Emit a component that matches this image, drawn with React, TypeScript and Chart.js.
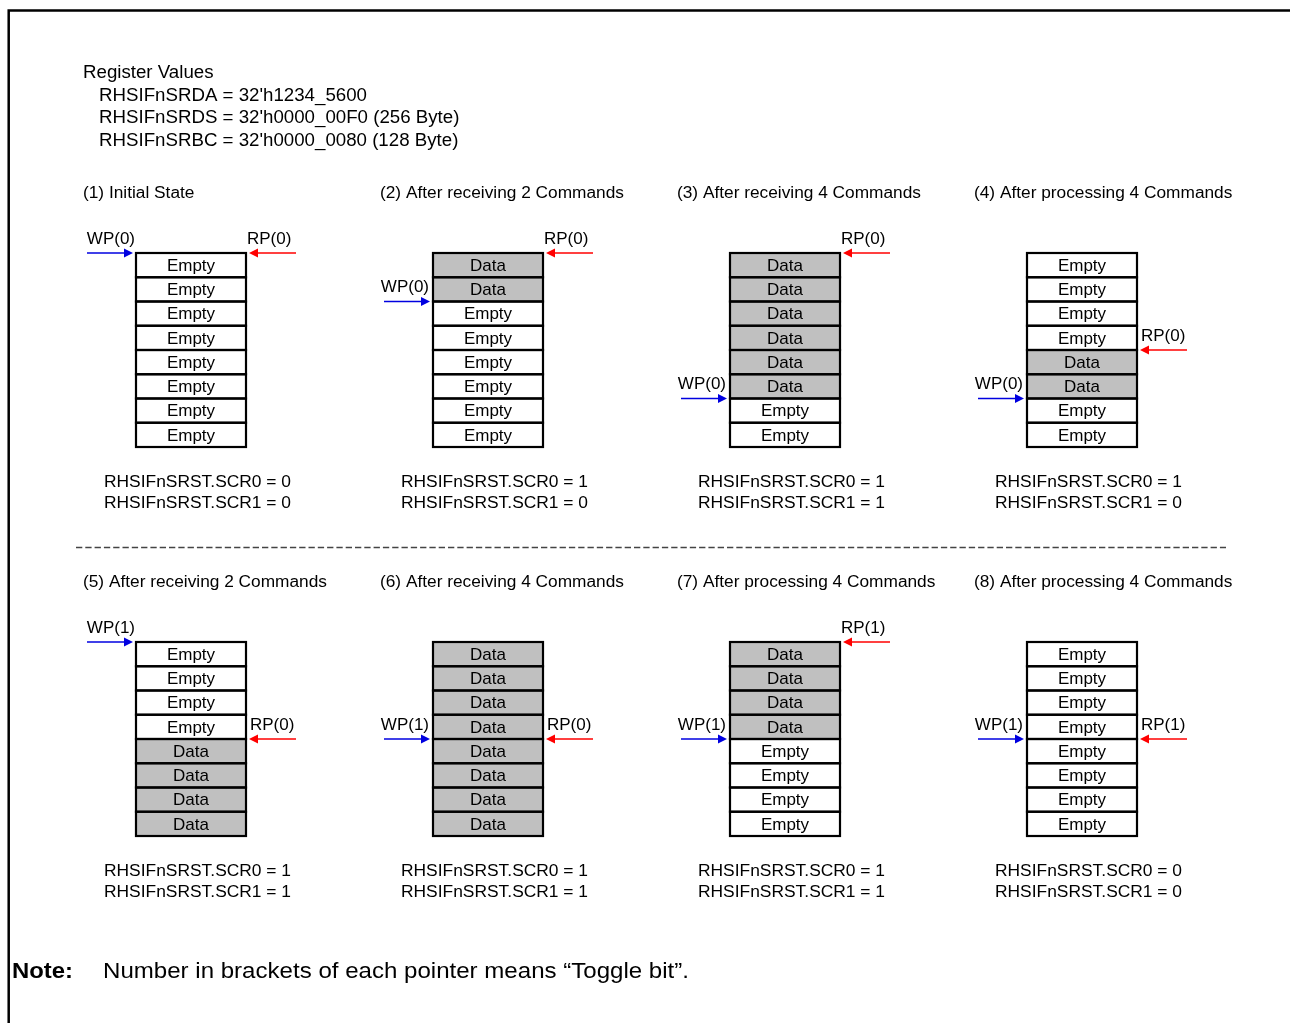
import React, { useEffect, useRef } from 'react';
import { Chart, registerables } from 'chart.js';

Chart.register(...registerables);

// ---------- data ----------
const registerTitle = 'Register Values';
const registerLines = [
  "RHSIFnSRDA = 32'h1234_5600",
  "RHSIFnSRDS = 32'h0000_00F0 (256 Byte)",
  "RHSIFnSRBC = 32'h0000_0080 (128 Byte)",
];

const panelTitles = [
  '(1) Initial State',
  '(2) After receiving 2 Commands',
  '(3) After receiving 4 Commands',
  '(4) After processing 4 Commands',
  '(5) After receiving 2 Commands',
  '(6) After receiving 4 Commands',
  '(7) After processing 4 Commands',
  '(8) After processing 4 Commands',
];

const D = 'Data';
const E = 'Empty';
const panelCells: string[][] = [
  [E, E, E, E, E, E, E, E],
  [D, D, E, E, E, E, E, E],
  [D, D, D, D, D, D, E, E],
  [E, E, E, E, D, D, E, E],
  [E, E, E, E, D, D, D, D],
  [D, D, D, D, D, D, D, D],
  [D, D, D, D, E, E, E, E],
  [E, E, E, E, E, E, E, E],
];

const wpSlot = [0, 2, 6, 6, 0, 4, 4, 4];
const wpToggle = [0, 0, 0, 0, 1, 1, 1, 1];
const rpSlot = [0, 0, 0, 4, 4, 4, 0, 4];
const rpToggle = [0, 0, 0, 0, 0, 0, 1, 1];
const scr0 = [0, 1, 1, 1, 1, 1, 1, 0];
const scr1 = [0, 0, 1, 0, 1, 1, 1, 0];

const noteLabel = 'Note:';
const noteText = 'Number in brackets of each pointer means \u201CToggle bit\u201D.';

// ---------- layout (diagram units) ----------
const W = 1290;
const H = 1023;
const FONT = '"Liberation Sans", Arial, Helvetica, sans-serif';
const boxLeft0 = 136;
const colStep = 297;
const boxW = 110;
const rowTops = [253, 642];
const rowH = 24.25;
const titleY = [193, 582];
const scrY = [482, 871];

const diagramPlugin = {
  id: 'fifoDiagram',
  beforeDraw(chart: any) {
    const ctx = chart.ctx;
    ctx.save();
    ctx.fillStyle = '#ffffff';
    ctx.fillRect(0, 0, chart.width, chart.height);
    ctx.restore();
  },
  afterDraw(chart: any) {
    const ctx: CanvasRenderingContext2D = chart.ctx;
    const xs = chart.scales.x;
    const ys = chart.scales.y;
    const X = (v: number) => xs.getPixelForValue(v);
    const Y = (v: number) => ys.getPixelForValue(v);

    ctx.save();
    // frame
    ctx.strokeStyle = '#000';
    ctx.lineWidth = 2.5;
    ctx.beginPath();
    ctx.moveTo(X(8.7), Y(H + 5));
    ctx.lineTo(X(8.7), Y(10.5));
    ctx.lineTo(X(W + 5), Y(10.5));
    ctx.stroke();

    // register text
    ctx.fillStyle = '#000';
    ctx.textBaseline = 'middle';
    ctx.textAlign = 'left';
    ctx.font = `18.7px ${FONT}`;
    ctx.fillText(registerTitle, X(83), Y(73));
    registerLines.forEach((t, i) => ctx.fillText(t, X(99), Y(95.5 + i * 22.5)));

    // separator
    ctx.strokeStyle = '#444';
    ctx.lineWidth = 1.3;
    ctx.setLineDash([6.3, 3]);
    ctx.beginPath();
    ctx.moveTo(X(76), Y(547.5));
    ctx.lineTo(X(1226), Y(547.5));
    ctx.stroke();
    ctx.setLineDash([]);

    const arrow = (x1: number, x2: number, y: number, color: string) => {
      const dir = Math.sign(x2 - x1);
      ctx.strokeStyle = color;
      ctx.fillStyle = color;
      ctx.lineWidth = 1.5;
      ctx.beginPath();
      ctx.moveTo(X(x1), Y(y));
      ctx.lineTo(X(x2 - dir * 8), Y(y));
      ctx.stroke();
      ctx.beginPath();
      ctx.moveTo(X(x2), Y(y));
      ctx.lineTo(X(x2 - dir * 9), Y(y - 4.5));
      ctx.lineTo(X(x2 - dir * 9), Y(y + 4.5));
      ctx.closePath();
      ctx.fill();
    };

    for (let p = 0; p < panelCells.length; p++) {
      const row = Math.floor(p / 4);
      const col = p % 4;
      const bx = boxLeft0 + col * colStep;
      const by = rowTops[row];

      // title
      ctx.fillStyle = '#000';
      ctx.textAlign = 'left';
      ctx.textBaseline = 'middle';
      ctx.font = `17.3px ${FONT}`;
      ctx.fillText(panelTitles[p], X(bx - 53), Y(titleY[row]));

      // cells
      panelCells[p].forEach((c, i) => {
        const top = by + i * rowH;
        if (c === D) {
          ctx.fillStyle = '#c0c0c0';
          ctx.fillRect(X(bx), Y(top), X(bx + boxW) - X(bx), Y(top + rowH) - Y(top));
        }
      });
      ctx.strokeStyle = '#000';
      ctx.lineWidth = 2.2;
      panelCells[p].forEach((c, i) => {
        const top = by + i * rowH;
        ctx.strokeRect(X(bx), Y(top), X(bx + boxW) - X(bx), Y(top + rowH) - Y(top));
      });
      ctx.fillStyle = '#000';
      ctx.textAlign = 'center';
      ctx.font = `17px ${FONT}`;
      panelCells[p].forEach((c, i) => {
        const top = by + i * rowH;
        ctx.fillText(c, X(bx + boxW / 2), Y(top + rowH / 2 + 1));
      });

      // WP pointer
      const wy = by + wpSlot[p] * rowH;
      arrow(bx - 49, bx - 3, wy, '#0000e0');
      ctx.fillStyle = '#000';
      ctx.textAlign = 'right';
      ctx.font = `17px ${FONT}`;
      ctx.fillText(`WP(${wpToggle[p]})`, X(bx - (wpSlot[p] === 0 ? 1 : 4)), Y(wy - 14));

      // RP pointer
      const ry = by + rpSlot[p] * rowH;
      arrow(bx + boxW + 50, bx + boxW + 3, ry, '#ff0000');
      ctx.fillStyle = '#000';
      ctx.textAlign = 'left';
      ctx.fillText(`RP(${rpToggle[p]})`, X(bx + boxW + (rpSlot[p] === 0 ? 1 : 4)), Y(ry - 14));

      // status text
      ctx.textAlign = 'left';
      ctx.font = `17.4px ${FONT}`;
      ctx.fillText(`RHSIFnSRST.SCR0 = ${scr0[p]}`, X(bx - 32), Y(scrY[row]));
      ctx.fillText(`RHSIFnSRST.SCR1 = ${scr1[p]}`, X(bx - 32), Y(scrY[row] + 21));
    }

    // note
    ctx.fillStyle = '#000';
    ctx.textAlign = 'left';
    ctx.textBaseline = 'middle';
    ctx.font = `bold 22px ${FONT}`;
    const nw = ctx.measureText(noteLabel).width;
    ctx.save();
    ctx.translate(X(12), Y(972));
    ctx.scale(61 / nw, 1);
    ctx.fillText(noteLabel, 0, 0);
    ctx.restore();
    ctx.font = `22px ${FONT}`;
    const tw = ctx.measureText(noteText).width;
    ctx.save();
    ctx.translate(X(103), Y(972));
    ctx.scale(586 / tw, 1);
    ctx.fillText(noteText, 0, 0);
    ctx.restore();

    ctx.restore();
  },
};

export default function App() {
  const ref = useRef<HTMLCanvasElement | null>(null);
  useEffect(() => {
    if (!ref.current) return;
    const chart = new Chart(ref.current, {
      type: 'scatter',
      data: { datasets: [{ data: [], pointRadius: 0 }] },
      options: {
        animation: false,
        responsive: false,
        devicePixelRatio: 1,
        layout: { padding: 0 },
        plugins: { legend: { display: false }, tooltip: { enabled: false } },
        scales: {
          x: { type: 'linear', min: 0, max: W, display: false },
          y: { type: 'linear', min: 0, max: H, reverse: true, display: false },
        },
      },
      plugins: [diagramPlugin],
    });
    return () => chart.destroy();
  }, []);
  return (
    <div style={{ position: 'absolute', left: 0, top: 0, width: W, height: H }}>
      <canvas ref={ref} width={W} height={H} style={{ display: 'block' }} />
    </div>
  );
}
